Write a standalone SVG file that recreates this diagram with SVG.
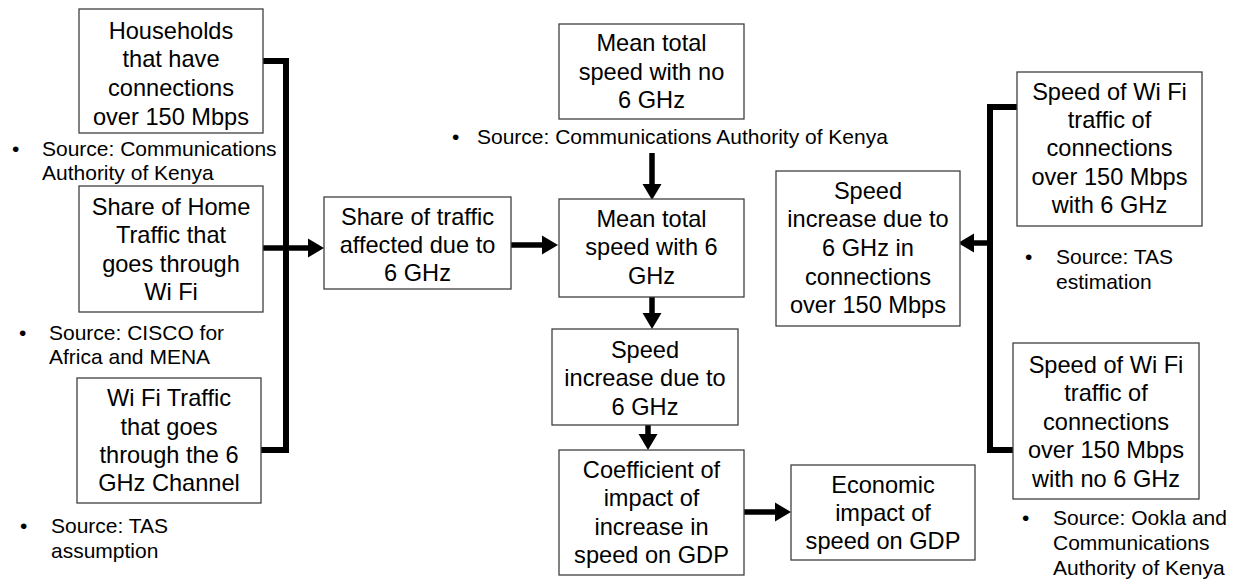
<svg xmlns="http://www.w3.org/2000/svg" width="1237" height="579" viewBox="0 0 1237 579">
<defs>
<marker id="ah" markerUnits="userSpaceOnUse" markerWidth="17" markerHeight="20" refX="0" refY="9.5" orient="auto" overflow="visible">
<path d="M0,0 L16,9.5 L0,19 Z" fill="#000"/>
</marker>
<style>
.box{fill:#fff;stroke:#404040;stroke-width:1.3}
.t{font-family:"Liberation Sans",Arial,sans-serif;font-size:23.6px;fill:#000;text-anchor:middle}
.s{font-family:"Liberation Sans",Arial,sans-serif;font-size:21px;fill:#000}
.c{fill:none;stroke:#000;stroke-width:6}
.a{fill:none;stroke:#000;stroke-width:5.5;marker-end:url(#ah)}
</style>
</defs>
<rect width="1237" height="579" fill="#fff"/>

<g id="connectors">
<path class="c" d="M263,61 H286 V450 H261"/>
<line class="a" x1="263" y1="248" x2="308" y2="248"/>
<line class="a" x1="511" y1="245" x2="542" y2="245"/>
<line class="a" x1="652" y1="153" x2="652" y2="184"/>
<line class="a" x1="652" y1="297" x2="652" y2="313"/>
<line class="a" x1="648" y1="425" x2="648" y2="434"/>
<line class="a" x1="744" y1="512" x2="775" y2="512"/>
<path class="c" d="M1017,107 H990 V450 H1013"/>
<line class="a" x1="990" y1="243" x2="974" y2="243"/>
</g>

<g id="households">
<rect class="box" x="79" y="9" width="184" height="124"/>
<text class="t" x="171" y="38.5">Households</text>
<text class="t" x="171" y="67">that have</text>
<text class="t" x="171" y="96">connections</text>
<text class="t" x="171" y="124.5">over 150 Mbps</text>
</g>
<g id="src-cak-left">
<text class="s" x="12" y="156">•</text>
<text class="s" x="42" y="156">Source: Communications</text>
<text class="s" x="42" y="180">Authority of Kenya</text>
</g>

<g id="share-home">
<rect class="box" x="79" y="186" width="184" height="126"/>
<text class="t" x="171" y="215">Share of Home</text>
<text class="t" x="171" y="243">Traffic that</text>
<text class="t" x="171" y="272">goes through</text>
<text class="t" x="171" y="300">Wi Fi</text>
</g>
<g id="src-cisco">
<text class="s" x="19" y="340">•</text>
<text class="s" x="49" y="340">Source: CISCO for</text>
<text class="s" x="49" y="364">Africa and MENA</text>
</g>

<g id="wifi-6ghz">
<rect class="box" x="77" y="378" width="184" height="125"/>
<text class="t" x="169" y="406">Wi Fi Traffic</text>
<text class="t" x="169" y="435">that goes</text>
<text class="t" x="169" y="463">through the 6</text>
<text class="t" x="169" y="491">GHz Channel</text>
</g>
<g id="src-tas-assumption">
<text class="s" x="20" y="533">•</text>
<text class="s" x="51" y="533">Source: TAS</text>
<text class="s" x="51" y="558">assumption</text>
</g>

<g id="share-traffic">
<rect class="box" x="324" y="197" width="187" height="92"/>
<text class="t" x="417.5" y="225">Share of traffic</text>
<text class="t" x="417.5" y="253">affected due to</text>
<text class="t" x="417.5" y="281">6 GHz</text>
</g>

<g id="mean-no6">
<rect class="box" x="559" y="24" width="185" height="95"/>
<text class="t" x="651.5" y="51">Mean total</text>
<text class="t" x="651.5" y="80">speed with no</text>
<text class="t" x="651.5" y="108">6 GHz</text>
</g>
<g id="src-cak-mid">
<text class="s" x="452" y="144">•</text>
<text class="s" x="477" y="144">Source: Communications Authority of Kenya</text>
</g>

<g id="mean-6">
<rect class="box" x="559" y="199" width="185" height="98"/>
<text class="t" x="651.5" y="227">Mean total</text>
<text class="t" x="651.5" y="255">speed with 6</text>
<text class="t" x="651.5" y="284">GHz</text>
</g>

<g id="speed-increase">
<rect class="box" x="552" y="329" width="186" height="96"/>
<text class="t" x="645" y="358">Speed</text>
<text class="t" x="645" y="386">increase due to</text>
<text class="t" x="645" y="415">6 GHz</text>
</g>

<g id="coefficient">
<rect class="box" x="559" y="450" width="185" height="125"/>
<text class="t" x="651.5" y="478">Coefficient of</text>
<text class="t" x="651.5" y="506">impact of</text>
<text class="t" x="651.5" y="535">increase in</text>
<text class="t" x="651.5" y="563">speed on GDP</text>
</g>

<g id="economic">
<rect class="box" x="791" y="465" width="184" height="95"/>
<text class="t" x="883" y="493">Economic</text>
<text class="t" x="883" y="521">impact of</text>
<text class="t" x="883" y="549">speed on GDP</text>
</g>

<g id="speed-increase-150">
<rect class="box" x="776" y="171" width="184" height="155"/>
<text class="t" x="868" y="199">Speed</text>
<text class="t" x="868" y="227">increase due to</text>
<text class="t" x="868" y="256">6 GHz in</text>
<text class="t" x="868" y="285">connections</text>
<text class="t" x="868" y="313">over 150 Mbps</text>
</g>

<g id="speed-with6">
<rect class="box" x="1017" y="72" width="185" height="154"/>
<text class="t" x="1109.5" y="100">Speed of Wi Fi</text>
<text class="t" x="1109.5" y="128">traffic of</text>
<text class="t" x="1109.5" y="156">connections</text>
<text class="t" x="1109.5" y="185">over 150 Mbps</text>
<text class="t" x="1109.5" y="213">with 6 GHz</text>
</g>
<g id="src-tas-estimation">
<text class="s" x="1025" y="264">•</text>
<text class="s" x="1056" y="264">Source: TAS</text>
<text class="s" x="1056" y="289">estimation</text>
</g>

<g id="speed-no6">
<rect class="box" x="1013" y="343" width="186" height="156"/>
<text class="t" x="1106" y="373">Speed of Wi Fi</text>
<text class="t" x="1106" y="401">traffic of</text>
<text class="t" x="1106" y="430">connections</text>
<text class="t" x="1106" y="458">over 150 Mbps</text>
<text class="t" x="1106" y="487">with no 6 GHz</text>
</g>
<g id="src-ookla">
<text class="s" x="1022" y="525">•</text>
<text class="s" x="1053" y="525">Source: Ookla and</text>
<text class="s" x="1053" y="550">Communications</text>
<text class="s" x="1053" y="575">Authority of Kenya</text>
</g>
</svg>
